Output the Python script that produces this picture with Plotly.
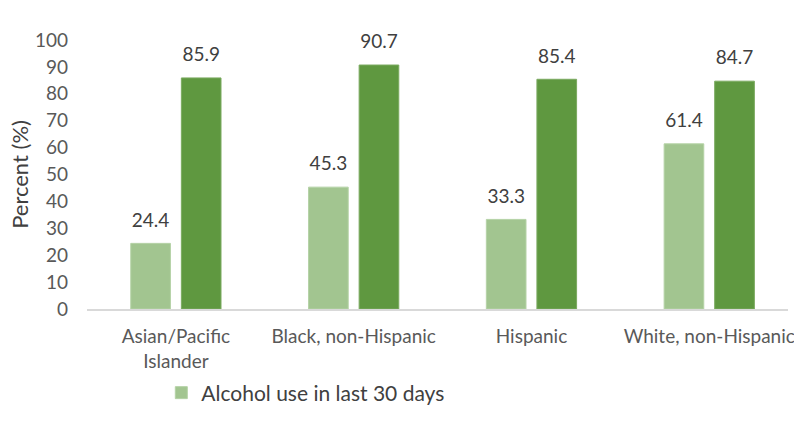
import plotly.graph_objects as go

# Groups and values (percent)
groups = ["Asian/Pacific<br>Islander", "Black, non-Hispanic", "Hispanic", "White, non-Hispanic"]
alcohol_30_days = [24.4, 45.3, 33.3, 61.4]
alcohol_ever = [85.9, 90.7, 85.4, 84.7]
y_ticks = [0, 10, 20, 30, 40, 50, 60, 70, 80, 90, 100]

FONT = "Lato"
LIGHT = "#A2C590"
DARK = "#5F9840"
# value label in 19px text over a small blank line, which lifts it a bit off the bar
LABEL_TEXT = "<span style='font-size:19px'>%{y:.1f}</span><br>&nbsp;"
LABEL_FONT = dict(family=FONT, size=9, color="#404040")

fig = go.Figure()
fig.add_trace(go.Bar(
    x=groups, y=alcohol_30_days, name="Alcohol use in last 30 days",
    marker=dict(color=LIGHT, line=dict(color="#B5D2A6", width=1)),
    texttemplate=LABEL_TEXT, textposition="outside", cliponaxis=False,
    constraintext="none", textfont=LABEL_FONT,
))
fig.add_trace(go.Bar(
    x=groups, y=alcohol_ever, name="Alcohol use ever", showlegend=False,
    marker=dict(color=DARK, line=dict(color="#7BAA60", width=1)),
    texttemplate=LABEL_TEXT, textposition="outside", cliponaxis=False,
    constraintext="none", textfont=LABEL_FONT,
))

fig.update_layout(
    width=794, height=424,
    margin=dict(l=87, r=0, t=40, b=115),
    paper_bgcolor="white", plot_bgcolor="white",
    barmode="group", bargap=0.431, bargroupgap=0.216,
    font=dict(family=FONT, size=19, color="#595959"),
    showlegend=True,
    legend=dict(
        orientation="h", x=0.106, y=-0.236, xanchor="left", yanchor="top",
        font=dict(family=FONT, size=21, color="#404040"),
        itemwidth=30, tracegroupgap=0,
    ),
)
fig.update_xaxes(
    range=[-0.5, 3.443], showgrid=False, showline=True,
    linecolor="#D9D9D9", linewidth=2, ticks="", ticklabelstandoff=9,
    tickfont=dict(size=19, color="#595959"),
)
fig.update_yaxes(
    range=[0, 100], tickvals=y_ticks, showgrid=False, showline=False, zeroline=False,
    ticks="", ticklabelstandoff=18, tickfont=dict(size=19, color="#595959"),
    title=dict(text="Percent (%)", font=dict(size=22, color="#404040"), standoff=0),
)

fig.write_html("out.html")
